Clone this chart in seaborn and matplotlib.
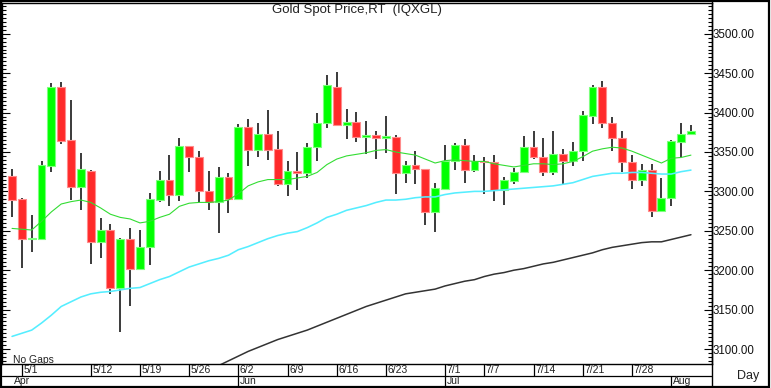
import numpy as np
import matplotlib.pyplot as plt
import matplotlib.patches as patches
from matplotlib.lines import Line2D
from matplotlib.ticker import MultipleLocator, FormatStrFormatter
import seaborn as sns

# ------------------------------------------------------------------
# Data (daily candles, 4/30 - 8/5)
# ------------------------------------------------------------------
dates = ["4/30", "5/1", "5/2", "5/5", "5/6", "5/7", "5/8", "5/9",
         "5/12", "5/13", "5/14", "5/15", "5/16", "5/19", "5/20", "5/21",
         "5/22", "5/23", "5/26", "5/27", "5/28", "5/29", "5/30", "6/2",
         "6/3", "6/4", "6/5", "6/6", "6/9", "6/10", "6/11", "6/12",
         "6/13", "6/16", "6/17", "6/18", "6/19", "6/20", "6/23", "6/24",
         "6/25", "6/26", "6/27", "6/30", "7/1", "7/2", "7/3", "7/4",
         "7/7", "7/8", "7/9", "7/10", "7/11", "7/14", "7/15", "7/16",
         "7/17", "7/18", "7/21", "7/22", "7/23", "7/24", "7/25", "7/28",
         "7/29", "7/30", "7/31", "8/1", "8/4", "8/5"]

opens = [3319, 3290, 3239, 3240, 3332, 3432, 3365, 3305, 3326, 3236,
         3251, 3177, 3240, 3202, 3230, 3289, 3315, 3296, 3358, 3343,
         3301, 3287, 3318, 3290, 3382, 3353, 3373, 3354, 3310, 3326,
         3323, 3356, 3387, 3433, 3384, 3388, 3369, 3371, 3368, 3369,
         3323, 3333, 3329, 3274, 3303, 3338, 3359, 3327, 3339, 3337,
         3302, 3313, 3324, 3356, 3343, 3324, 3347, 3339, 3351, 3396,
         3432, 3387, 3368, 3337, 3314, 3327, 3275, 3291, 3363, 3373]
highs = [3329, 3292, 3270, 3339, 3437, 3439, 3416, 3349, 3327, 3266,
         3259, 3241, 3254, 3251, 3298, 3326, 3346, 3368, 3358, 3351,
         3326, 3331, 3323, 3385, 3392, 3387, 3403, 3377, 3339, 3350,
         3361, 3400, 3448, 3452, 3405, 3401, 3389, 3376, 3396, 3371,
         3339, 3351, 3329, 3311, 3359, 3362, 3366, 3346, 3343, 3346,
         3318, 3330, 3370, 3377, 3368, 3377, 3354, 3363, 3402, 3435,
         3440, 3395, 3376, 3346, 3335, 3335, 3317, 3365, 3387, 3384]
lows = [3268, 3203, 3223, 3238, 3324, 3360, 3289, 3276, 3208, 3216,
        3170, 3122, 3155, 3201, 3206, 3286, 3281, 3288, 3325, 3286,
        3276, 3247, 3273, 3289, 3332, 3344, 3340, 3307, 3294, 3302,
        3317, 3339, 3380, 3383, 3366, 3363, 3348, 3341, 3349, 3297,
        3311, 3310, 3257, 3248, 3302, 3327, 3311, 3324, 3297, 3288,
        3283, 3310, 3323, 3341, 3320, 3321, 3310, 3332, 3338, 3385,
        3381, 3351, 3325, 3303, 3307, 3268, 3274, 3282, 3344, 3373]
closes = [3289, 3239, 3241, 3333, 3432, 3364, 3305, 3328, 3236, 3251,
          3177, 3240, 3202, 3230, 3290, 3315, 3296, 3358, 3343, 3301,
          3287, 3318, 3290, 3382, 3353, 3373, 3353, 3309, 3326, 3323,
          3356, 3387, 3435, 3384, 3388, 3369, 3370, 3368, 3369, 3323,
          3333, 3328, 3274, 3304, 3338, 3359, 3327, 3339, 3337, 3302,
          3314, 3324, 3356, 3343, 3324, 3347, 3339, 3351, 3397, 3432,
          3387, 3368, 3337, 3314, 3327, 3275, 3291, 3364, 3373, 3377]

# moving averages
ma_fast = [3253, 3252, 3251, 3262, 3274, 3284, 3287, 3289, 3286, 3279,
           3271, 3267, 3265, 3260, 3262, 3267, 3271, 3281, 3285, 3286,
           3286, 3287, 3289, 3297, 3307, 3312, 3315, 3315, 3315, 3317,
           3319, 3324, 3334, 3341, 3345, 3347, 3349, 3352, 3353, 3350,
           3348, 3346, 3341, 3336, 3339, 3340, 3339, 3338, 3338, 3335,
           3333, 3331, 3333, 3335, 3335, 3334, 3335, 3338, 3344, 3351,
           3354, 3356, 3355, 3351, 3346, 3341, 3336, 3342, 3343, 3346]
ma_mid = [3116, 3120, 3124, 3133, 3143, 3154, 3160, 3166, 3170, 3172,
          3173, 3175, 3177, 3178, 3183, 3188, 3192, 3198, 3204, 3208,
          3212, 3215, 3219, 3226, 3230, 3235, 3240, 3244, 3247, 3249,
          3254, 3260, 3267, 3271, 3276, 3279, 3282, 3286, 3289, 3289,
          3290, 3292, 3293, 3293, 3296, 3298, 3299, 3300, 3300, 3301,
          3302, 3303, 3304, 3305, 3306, 3307, 3309, 3311, 3315, 3319,
          3321, 3323, 3323, 3324, 3324, 3323, 3322, 3322, 3325, 3327]
ma_slow = [np.nan] * 20 + [
           3073, 3079, 3085, 3091, 3097, 3102, 3107, 3112, 3116, 3120,
           3124, 3129, 3134, 3139, 3144, 3149, 3154, 3158, 3162, 3166,
           3170, 3172, 3174, 3176, 3180, 3183, 3186, 3188, 3192, 3195,
           3197, 3200, 3202, 3205, 3208, 3210, 3213, 3216, 3219, 3222,
           3226, 3229, 3231, 3233, 3235, 3236, 3236, 3239, 3242, 3245]

day_labels = ["5/1", "5/12", "5/19", "5/26", "6/2", "6/9", "6/16", "6/23",
              "7/1", "7/7", "7/14", "7/21", "7/28"]
month_labels = ["Apr", "Jun", "Jul", "Aug"]
month_dates = ["4/30", "6/2", "7/1", "8/1"]

# ------------------------------------------------------------------
# Figure
# ------------------------------------------------------------------
W, H = 771, 388
sns.set_theme(style="white")
plt.rcParams['font.family'] = ['Liberation Sans', 'DejaVu Sans']

fig = plt.figure(figsize=(W / 100, H / 100), dpi=100)
fig.patch.set_facecolor('white')


def fbox(x0, y0, x1, y1):
    # pixel box -> figure fraction [left, bottom, width, height]
    return [x0 / W, 1 - y1 / H, (x1 - x0) / W, (y1 - y0) / H]


ax = fig.add_axes(fbox(2, 3, 712, 364))
idx = np.arange(len(dates))
o = np.array(opens, float)
c = np.array(closes, float)
up = c >= o

# candles
ax.vlines(idx, lows, highs, color='#3a3a3a', linewidth=1.4, zorder=2)
body_lo = np.minimum(o, c)
body_h = np.maximum(np.abs(c - o), 2.0)
ax.bar(idx[up], body_h[up], bottom=body_lo[up], width=0.8,
       color='#00ff00', edgecolor='#7dff7d', linewidth=0.8, zorder=3)
ax.bar(idx[~up], body_h[~up], bottom=body_lo[~up], width=0.8,
       color='#ff2a2a', edgecolor='#ff8c8c', linewidth=0.8, zorder=3)

# moving averages
sns.lineplot(x=idx, y=ma_slow, ax=ax, color='#333333', linewidth=1.1,
             estimator=None, zorder=4)
sns.lineplot(x=idx, y=ma_mid, ax=ax, color='#55eeff', linewidth=1.15,
             estimator=None, zorder=4)
sns.lineplot(x=idx, y=ma_fast, ax=ax, color='#33dd33', linewidth=0.8,
             estimator=None, zorder=4)

ax.set_xlim(-1.02, 71.14)
ax.set_ylim(3081, 3539)
ax.set_xticks([])
ax.set_xlabel('')
ax.set_ylabel('')
ax.yaxis.set_major_locator(MultipleLocator(50))
ax.yaxis.set_minor_locator(MultipleLocator(5))
ax.yaxis.set_major_formatter(FormatStrFormatter('%.2f'))
ax.tick_params(axis='y', which='both', direction='in', left=True, right=True,
               labelleft=False, labelright=True, color='black')
ax.tick_params(axis='y', which='major', length=6, width=0.8, pad=0.5,
               labelsize=8.3, labelcolor='#111111')
ax.tick_params(axis='y', which='minor', length=3, width=0.8)
for s in ax.spines.values():
    s.set_color('black')
    s.set_linewidth(1.0)

fig.text(357 / W, 1 - 10.5 / H, 'Gold Spot Price,RT  (IQXGL)',
         ha='center', va='center', fontsize=9.5, color='#222222')
fig.text(13 / W, 1 - 363 / H, 'No Gaps', ha='left', va='baseline',
         fontsize=7.5, color='#222222')

# date strip under the chart
ax_d = fig.add_axes(fbox(2, 364, 712, 386))
ax_d.set_xlim(ax.get_xlim())
ax_d.set_ylim(22, 0)
ax_d.axis('off')
ax_d.axhline(12, color='black', linewidth=0.9)
for lab in day_labels:
    i = dates.index(lab)
    ax_d.vlines(i, 0, 12, color='black', linewidth=0.9)
    ax_d.text(i + 0.15, 6.3, lab, ha='left', va='center', fontsize=7.5,
              color='#222222')
for k, (lab, d) in enumerate(zip(month_labels, month_dates)):
    i = dates.index(d)
    if k > 0:
        ax_d.vlines(i, 12, 22, color='black', linewidth=0.9)
    ax_d.text(i + 0.15, 17.3, lab, ha='left', va='center', fontsize=7.5,
              color='#222222')

fig.text(748 / W, 1 - 376 / H, 'Day', ha='center', va='center', fontsize=9,
         color='#222222')

# panel frame lines
fig.add_artist(Line2D([712 / W, 712 / W], [0, 1], transform=fig.transFigure,
                      color='black', linewidth=1.0))
fig.add_artist(patches.Rectangle((1 / W, 1 - 386.5 / H), 768 / W, 385.5 / H,
                                 transform=fig.transFigure, fill=False,
                                 edgecolor='black', linewidth=1.6))

plt.savefig('out.png', dpi=100)
plt.close()
